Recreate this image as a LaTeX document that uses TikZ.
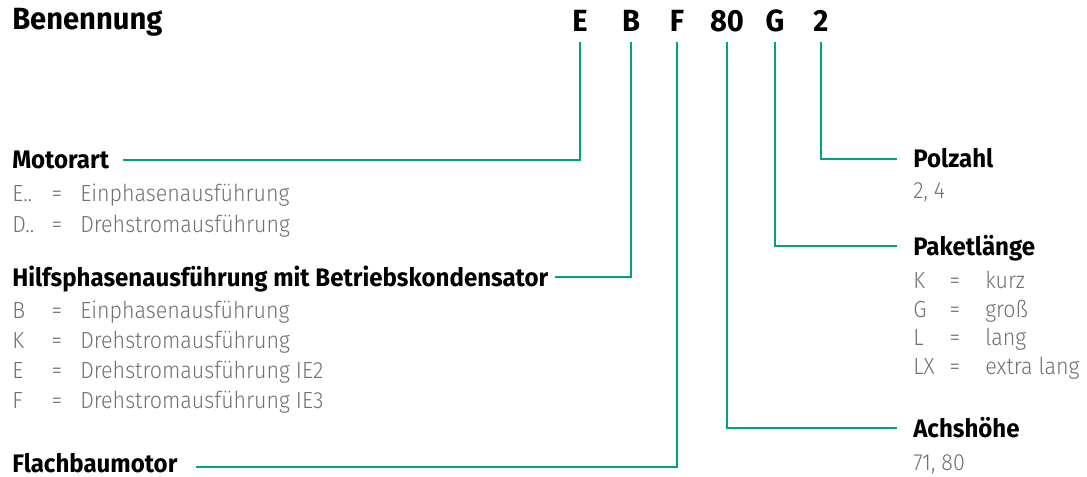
\documentclass[tikz,border=0pt]{standalone}
\usepackage{fontspec}
\setmainfont{Fira Sans}[FakeStretch=0.95]
\newfontfamily\duenn{Fira Sans Light}[FakeStretch=0.92]
\definecolor{gruen}{RGB}{0,160,135}
\definecolor{grau}{RGB}{112,112,112}

\begin{document}
\begin{tikzpicture}[
        x=0.75pt, y=-0.75pt,
        leitung/.style={draw=gruen,line width=1.5pt},
        kopf/.style={font=\bfseries\fontsize{19}{20}\selectfont,anchor=base west,inner sep=0pt,text height=13.5pt,text depth=0pt},
        code/.style={font=\bfseries\fontsize{23}{25}\selectfont,anchor=base,inner xsep=0pt,inner ysep=7.5pt,text depth=0pt},
        wert/.style={font=\duenn\fontsize{17.5}{18}\selectfont,text=grau,anchor=base west,inner sep=0pt},
        gleich/.style={wert,anchor=base},
      ]

      \useasboundingbox (0,0) rectangle (1087,477);

      \path (12,30) node[kopf,font=\bfseries\fontsize{23}{25}\selectfont] (benennung) {Benennung};

      \path (580,32) node[code] (cE) {E};
      \path (631,32) node[code] (cB) {B};
      \path (677,32) node[code] (cF) {F};
      \path (727,32) node[code] (c80) {80};
      \path (775,32) node[code] (cG) {G};
      \path (821,32) node[code] (c2) {2};

      \path (12,169) node[kopf] (motorart) {Motorart};
      \path (12,286) node[kopf] (hilfs) {Hilfsphasenausführung mit Betriebskondensator};
      \path (12,472) node[kopf] (flach) {Flachbaumotor};
      \path (913,168) node[kopf] (polzahl) {Polzahl};
      \path (913,255) node[kopf] (paket) {Paketlänge};
      \path (913,437) node[kopf] (achs) {Achshöhe};

      \draw[leitung,shorten >=10.5pt] (cE.south) |- (motorart.east);
      \draw[leitung,shorten >=4.5pt] (cB.south) |- (hilfs.east);
      \draw[leitung,shorten >=13.5pt] (cF.south) |- ([yshift=-3pt]flach.east);
      \draw[leitung,shorten >=12pt] (c80.south) |- (achs.west);
      \draw[leitung,shorten >=12pt] (cG.south) |- (paket.west);
      \draw[leitung,shorten >=12pt] (c2.south) |- (polzahl.west);

      % Motorart
      \foreach \k/\v [count=\i] in {E../Einphasenausführung,D../Drehstromausführung}{
        \path (12,171+31*\i) node[wert] (mk\i) {\k};
        \path (57,171+31*\i) node[gleich] (mg\i) {=};
        \path (80,171+31*\i) node[wert] (mv\i) {\v};
      }
      % Hilfsphase
      \foreach \k/\v [count=\i] in {B/Einphasenausführung,K/Drehstromausführung,E/Drehstromausführung IE2,F/Drehstromausführung IE3}{
        \path (12,288+30*\i) node[wert] (hk\i) {\k};
        \path (57,288+30*\i) node[gleich] (hg\i) {=};
        \path (80,288+30*\i) node[wert] (hv\i) {\v};
      }
      % Paketlaenge
      \foreach \k/\v [count=\i] in {K/kurz,G/groß,L/lang,LX/extra lang}{
        \path (913,260+28.5*\i) node[wert] (pk\i) {\k};
        \path (955,260+28.5*\i) node[gleich] (pg\i) {=};
        \path (985,260+28.5*\i) node[wert] (pv\i) {\v};
      }
      \path (913,199) node[wert] (polwert) {2, 4};
      \path (913,470) node[wert] (achswert) {71, 80};

    \end{tikzpicture}
\end{document}
